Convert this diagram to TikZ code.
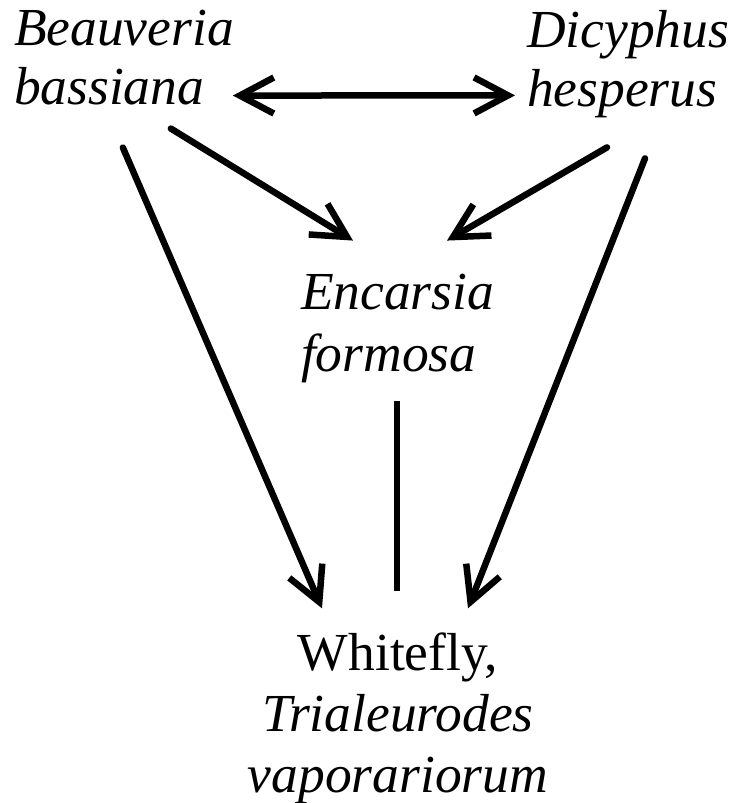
\documentclass[tikz,border=0pt]{standalone}
\usepackage{fontspec}
\setmainfont{Liberation Serif}
\usetikzlibrary{arrows.meta}
\tikzset{
  lab/.style={inner sep=0pt, outer sep=0pt, font=\fontsize{53.5}{61}\selectfont},
  arr/.style={line width=6.5pt, line cap=round, -{Straight Barb[length=34pt,width=36pt,line width=6.5pt]}},
  darr/.style={line width=6.5pt, line cap=round, {Straight Barb[length=34pt,width=36pt,line width=6.5pt]}-{Straight Barb[length=34pt,width=36pt,line width=6.5pt]}},
  plain/.style={line width=6.5pt}
}
\begin{document}
\begin{tikzpicture}[x=1pt,y=-1pt]
\useasboundingbox (0,0) rectangle (738,803);
\node[lab, align=left, anchor=base west, font=\fontsize{53.5}{59}\selectfont\itshape] (beau) at (14,104) {Beauveria\\bassiana};
\node[lab, align=left, anchor=base west, font=\fontsize{53.5}{59}\selectfont\itshape] (dicy) at (527,106) {Dicyphus\\hesperus};
\node[lab, align=left, anchor=base west, font=\fontsize{53.5}{62}\selectfont\itshape] (enc) at (301,371) {Encarsia\\formosa};
\node[lab, align=center, anchor=base] (white) at (398,792) {Whitefly,\\\textit{Trialeurodes}\\\textit{vaporariorum}};
% connectors
\draw[darr] ([shift={(-1,-9)}]beau.south east) -- ([shift={(-12,-22)}]dicy.south west);
\draw[arr] ([shift={(-63,24)}]beau.south east) -- ([shift={(52,-33)}]enc.north west);
\draw[arr] ([shift={(80,30)}]dicy.south west) -- ([shift={(146,-33)}]enc.north west);
\draw[arr] ([shift={(-111,43)}]beau.south east) -- ([shift={(-76,-24)}]white.north);
\draw[arr] ([shift={(118,41)}]dicy.south west) -- ([shift={(70,-24)}]white.north);
\draw[plain] ([shift={(96,19)}]enc.south west) -- ([shift={(-1,-41)}]white.north);
\end{tikzpicture}
\end{document}
